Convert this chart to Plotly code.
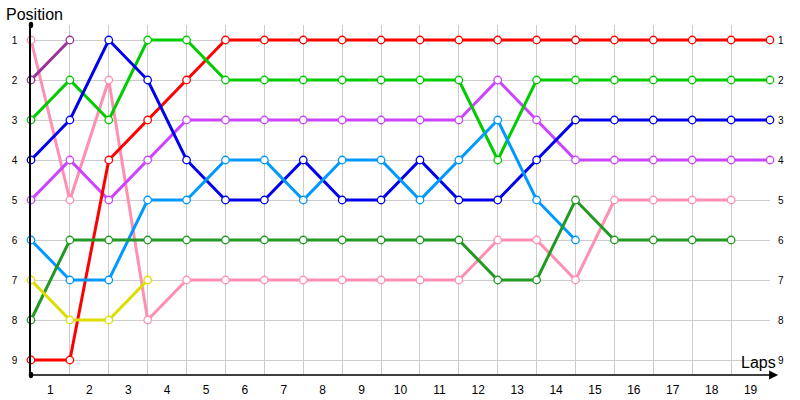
import plotly.graph_objects as go

laps = list(range(20))
lap_labels = [str(i) for i in range(1, 20)]
positions = list(range(1, 10))

red = [9, 9, 4, 3, 2, 1, 1, 1, 1, 1, 1, 1, 1, 1, 1, 1, 1, 1, 1, 1]
green = [3, 2, 3, 1, 1, 2, 2, 2, 2, 2, 2, 2, 4, 2, 2, 2, 2, 2, 2, 2]
blue = [4, 3, 1, 2, 4, 5, 5, 4, 5, 5, 4, 5, 5, 4, 3, 3, 3, 3, 3, 3]
purple = [5, 4, 5, 4, 3, 3, 3, 3, 3, 3, 3, 3, 2, 3, 4, 4, 4, 4, 4, 4]
lightblue = [6, 7, 7, 5, 5, 4, 4, 5, 4, 4, 5, 4, 3, 5, 6]
darkgreen = [8, 6, 6, 6, 6, 6, 6, 6, 6, 6, 6, 6, 7, 7, 5, 6, 6, 6, 6]
pink = [1, 5, 2, 8, 7, 7, 7, 7, 7, 7, 7, 7, 6, 6, 7, 5, 5, 5, 5]
yellow = [7, 8, 8, 7]
darkpurple = [2, 1]

series = [
    (pink, "#ff8fb0"),
    (purple, "#cc44ff"),
    (red, "#ff0000"),
    (green, "#00cc00"),
    (blue, "#0000ee"),
    (lightblue, "#0099ff"),
    (darkgreen, "#229922"),
    (yellow, "#dddd00"),
    (darkpurple, "#993399"),
]

fig = go.Figure()
for vals, col in series:
    fig.add_trace(go.Scatter(
        x=laps[:len(vals)], y=vals, mode="lines+markers",
        line=dict(color=col, width=3),
        marker=dict(symbol="circle", size=7.5, color="white",
                    line=dict(color=col, width=1.3)),
        cliponaxis=False, showlegend=False, hoverinfo="skip",
    ))

# invisible trace for the right axis
fig.add_trace(go.Scatter(x=[laps[0]], y=[positions[0]], yaxis="y2",
                         mode="markers", marker=dict(opacity=0),
                         showlegend=False, hoverinfo="skip"))

font = "Liberation Sans, Arial, sans-serif"
fig.update_layout(
    width=800, height=400,
    margin=dict(l=31, r=30, t=25, b=25, autoexpand=False),
    plot_bgcolor="white", paper_bgcolor="white",
    font=dict(family=font, color="black"),
    xaxis=dict(
        range=[0, 19], tickvals=[i + 0.5 for i in range(19)], ticktext=lap_labels,
        showgrid=False, zeroline=False, showline=False, automargin=False,
        tickfont=dict(size=12, family=font), ticks="", ticklabelstandoff=6,
        minor=dict(tickvals=laps, showgrid=True, gridcolor="#cccccc", gridwidth=1),
    ),
    yaxis=dict(
        range=[9.375, 0.625], tickvals=positions, ticktext=[str(p) for p in positions],
        showgrid=True, gridcolor="#cccccc", gridwidth=1, zeroline=False,
        showline=True, linecolor="black", linewidth=1.5, automargin=False,
        tickfont=dict(size=10, family=font), ticks="", ticklabelstandoff=10,
    ),
    yaxis2=dict(
        range=[9.375, 0.625], tickvals=positions, ticktext=[str(p) for p in positions],
        overlaying="y", side="right", showgrid=False, zeroline=False, showline=False,
        automargin=False,
        tickfont=dict(size=10, family=font), ticks="", ticklabelstandoff=7,
    ),
    annotations=[
        dict(text="Position", xref="paper", yref="paper", x=-0.037, y=1.0,
             xanchor="left", yanchor="bottom", showarrow=False,
             font=dict(size=16, family=font)),
        dict(text="Laps", xref="paper", yref="paper", x=0.985, y=0.036,
             xanchor="center", yanchor="middle", showarrow=False,
             font=dict(size=16, family=font)),
        dict(text="", xref="x domain", yref="y domain", x=1.011, y=0,
             axref="x domain", ayref="y domain", ax=0, ay=0, showarrow=True,
             arrowhead=2, arrowsize=1.2, arrowwidth=1.5, arrowcolor="black"),
    ],
    shapes=[
        dict(type="circle", xref="paper", yref="paper", x0=-0.003, x1=0.003,
             y0=0.991, y1=1.009, fillcolor="black", line=dict(width=0)),
        dict(type="circle", xref="paper", yref="paper", x0=-0.003, x1=0.003,
             y0=-0.009, y1=0.009, fillcolor="black", line=dict(width=0)),
    ],
)

fig.write_html("out.html", config={"displayModeBar": False},
               post_script="document.body.style.margin='0';")
